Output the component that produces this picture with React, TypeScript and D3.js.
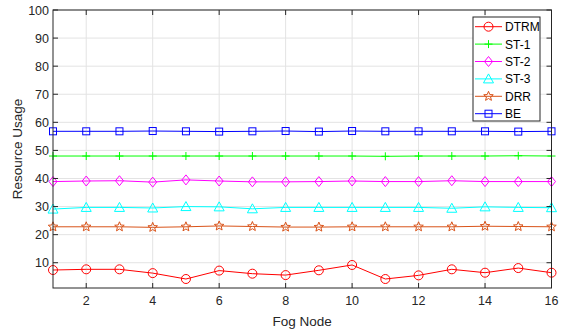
import React from "react";
import * as d3 from "d3";

const nodes = d3.range(1, 17);
const dtrm = [7.4, 7.65, 7.65, 6.3, 4.2, 7.2, 6.1, 5.6, 7.3, 9.2, 4.2, 5.5, 7.65, 6.45, 8.1, 6.45];
const st1 = [48, 48, 48, 48, 48, 48, 48, 48, 48, 48, 47.9, 48, 48, 48, 48.1, 48];
const st2 = [38.9, 39.1, 39.2, 38.7, 39.5, 39.1, 38.8, 38.8, 38.9, 39.1, 38.9, 38.9, 39.2, 38.9, 38.9, 38.9];
const st3 = [29.1, 29.7, 29.7, 29.5, 30.0, 29.9, 29.2, 29.7, 29.7, 29.7, 29.7, 29.7, 29.4, 29.9, 29.7, 29.6];
const drr = [22.8, 22.8, 22.8, 22.6, 22.8, 23.1, 22.9, 22.7, 22.7, 22.8, 22.8, 22.8, 22.8, 23.0, 22.9, 22.8];
const be = [56.8, 56.8, 56.8, 56.9, 56.8, 56.7, 56.8, 56.9, 56.7, 56.9, 56.8, 56.8, 56.8, 56.8, 56.7, 56.8];
const yTicks = [10, 20, 30, 40, 50, 60, 70, 80, 90, 100];
const xTicks = [2, 4, 6, 8, 10, 12, 14, 16];

const series = [
  { name: "DTRM", values: dtrm, color: "#ff0000", marker: "circle" },
  { name: "ST-1", values: st1, color: "#00ff00", marker: "plus" },
  { name: "ST-2", values: st2, color: "#ff00ff", marker: "diamond" },
  { name: "ST-3", values: st3, color: "#00ffff", marker: "triangle" },
  { name: "DRR", values: drr, color: "#d95319", marker: "star" },
  { name: "BE", values: be, color: "#0000ff", marker: "square" },
];

const L = 53, R = 551.5, T = 10, B = 288;
const x = d3.scaleLinear().domain([1, 16]).range([L, R]);
const y = d3.scaleLinear().domain([1, 100]).range([B, T]);

function Marker({ kind, cx, cy, color }: { kind: string; cx: number; cy: number; color: string }) {
  const common = { fill: "none", stroke: color, strokeWidth: 1 };
  switch (kind) {
    case "circle":
      return <circle cx={cx} cy={cy} r={4.5} {...common} />;
    case "plus":
      return <path d={`M${cx - 4},${cy}H${cx + 4}M${cx},${cy - 4}V${cy + 4}`} {...common} />;
    case "diamond":
      return <path d={`M${cx},${cy - 5}L${cx + 4},${cy}L${cx},${cy + 5}L${cx - 4},${cy}Z`} {...common} />;
    case "triangle":
      return <path d={`M${cx},${cy - 5}L${cx + 5},${cy + 4}L${cx - 5},${cy + 4}Z`} {...common} />;
    case "square":
      return <rect x={cx - 3.5} y={cy - 3.5} width={7} height={7} {...common} />;
    case "star": {
      const pts: string[] = [];
      for (let i = 0; i < 10; i++) {
        const r = i % 2 === 0 ? 5 : 2.2;
        const a = -Math.PI / 2 + (i * Math.PI) / 5;
        pts.push(`${cx + r * Math.cos(a)},${cy + r * Math.sin(a)}`);
      }
      return <path d={`M${pts.join("L")}Z`} {...common} />;
    }
  }
  return null;
}

export default function App() {
  const line = (vals: number[]) =>
    d3.line<number>().x((_, i) => x(nodes[i])).y((v) => y(v))(vals) || "";
  const font = "Arial, 'Liberation Sans', sans-serif";
  const legX = 473, legY = 17, legW = 67, legH = 104, rowH = 17.4;
  return (
    <svg width={567} height={333} style={{ position: "absolute", left: 0, top: 0 }} fontFamily={font}>
      <rect x={0} y={0} width={567} height={333} fill="#fff" />
      {/* grid */}
      {xTicks.map((t) => (
        <line key={"gx" + t} x1={x(t)} x2={x(t)} y1={T} y2={B} stroke="#e3e3e3" strokeWidth={1} />
      ))}
      {yTicks.map((t) => (
        <line key={"gy" + t} x1={L} x2={R} y1={y(t)} y2={y(t)} stroke="#e3e3e3" strokeWidth={1} />
      ))}
      {/* series */}
      {series.map((s) => (
        <g key={s.name}>
          <path d={line(s.values)} fill="none" stroke={s.color} strokeWidth={1} />
          {s.values.map((v, i) => (
            <Marker key={i} kind={s.marker} cx={x(nodes[i])} cy={y(v)} color={s.color} />
          ))}
        </g>
      ))}
      {/* axes box */}
      <rect x={L} y={T} width={R - L} height={B - T} fill="none" stroke="#262626" strokeWidth={1} />
      {xTicks.map((t) => (
        <g key={"tx" + t}>
          <line x1={x(t)} x2={x(t)} y1={B} y2={B - 5} stroke="#262626" />
          <line x1={x(t)} x2={x(t)} y1={T} y2={T + 5} stroke="#262626" />
          <text x={x(t)} y={B + 17} textAnchor="middle" fontSize={12.5} fill="#262626">{t}</text>
        </g>
      ))}
      {yTicks.map((t) => (
        <g key={"ty" + t}>
          <line x1={L} x2={L + 5} y1={y(t)} y2={y(t)} stroke="#262626" />
          <line x1={R} x2={R - 5} y1={y(t)} y2={y(t)} stroke="#262626" />
          <text x={L - 4} y={y(t) + 4.5} textAnchor="end" fontSize={12.5} fill="#262626">{t}</text>
        </g>
      ))}
      <text x={(L + R) / 2} y={326} textAnchor="middle" fontSize={13.5} fill="#262626">Fog Node</text>
      <text transform={`translate(22,${(T + B) / 2}) rotate(-90)`} textAnchor="middle" fontSize={13.5} fill="#262626">Resource Usage</text>
      {/* legend */}
      <rect x={legX} y={legY} width={legW} height={legH} fill="#fff" stroke="#262626" strokeWidth={1} />
      {series.map((s, i) => {
        const cy = legY + 9.7 + i * rowH;
        return (
          <g key={"lg" + s.name}>
            <line x1={legX + 2} x2={legX + 29} y1={cy} y2={cy} stroke={s.color} strokeWidth={1} />
            <Marker kind={s.marker} cx={legX + 15.5} cy={cy} color={s.color} />
            <text x={legX + 32} y={cy + 4.5} fontSize={12} fill="#000">{s.name}</text>
          </g>
        );
      })}
    </svg>
  );
}
